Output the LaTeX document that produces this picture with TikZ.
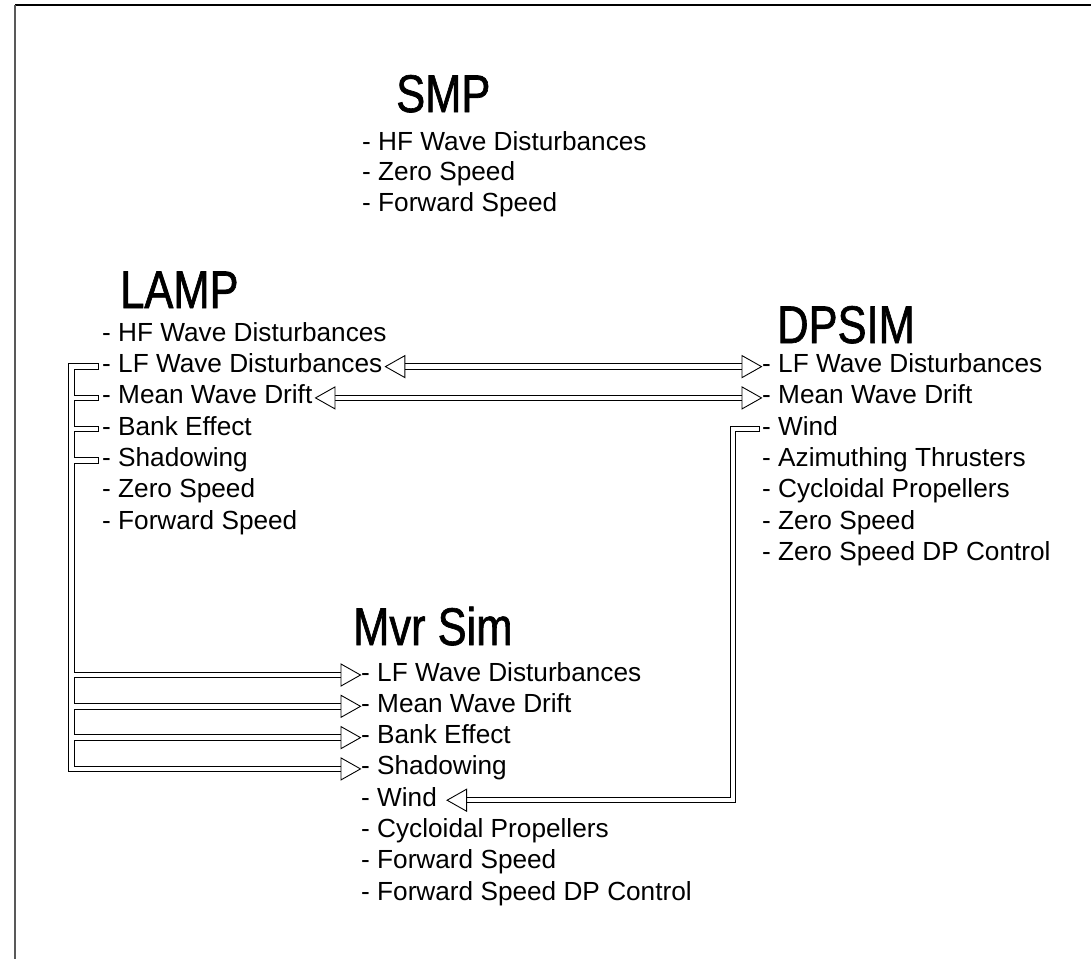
\documentclass[tikz,border=0pt]{standalone}
\usepackage{fontspec}
\setmainfont{Liberation Sans}
\newfontfamily\titlefont[FakeStretch=0.82,FakeBold=1.2]{Liberation Sans}
\usetikzlibrary{calc}
\begin{document}
\begin{tikzpicture}[x=1pt,y=-1pt,
  item/.style={anchor=base west, inner sep=0pt, font=\fontsize{26.2pt}{31pt}\selectfont},
  ttl/.style={anchor=base west, inner sep=0pt, font=\titlefont\fontsize{53pt}{60pt}\selectfont},
  bandblack/.style={line width=6.5pt, draw=black, line cap=butt, line join=miter},
  bandwhite/.style={line width=4.5pt, draw=white, line cap=butt, line join=miter},
  tipR/.pic={\draw[line width=0.9pt, fill=white, line join=miter] (0,0) -- (-19.5,-11) -- (-19.5,11) -- cycle;},
  tipL/.pic={\draw[line width=0.9pt, fill=white, line join=miter] (0,0) -- (19.5,-11) -- (19.5,11) -- cycle;},
]
\useasboundingbox (0,0) rectangle (1091,959);
\fill[white] (0,0) rectangle (1091,959);
% frame
\coordinate (fTL) at (15,5);
\coordinate (fTR) at (1091,5);
\coordinate (fBL) at (15,959);
\draw[line width=1.3pt] (fTL) -- (fTR);
\draw[line width=1.6pt, draw=black!65] (fTL) -- (fBL);

% SMP
\node[ttl] (smp) at (396,112) {SMP};
\node[item] (s1) at (362,150.5) {- HF Wave Disturbances};
\node[item] (s2) at (362,180.8) {- Zero Speed};
\node[item] (s3) at (362,211.1) {- Forward Speed};

% LAMP
\node[ttl] (lamp) at (120,308) {LAMP};
\node[item] (l1) at (102,341.3) {- HF Wave Disturbances};
\node[item] (l2) at (102,372.6) {- LF Wave Disturbances};
\node[item] (l3) at (102,403.9) {- Mean Wave Drift};
\node[item] (l4) at (102,435.2) {- Bank Effect};
\node[item] (l5) at (102,466.5) {- Shadowing};
\node[item] (l6) at (102,497.8) {- Zero Speed};
\node[item] (l7) at (102,529.1) {- Forward Speed};

% DPSIM
\node[ttl] (dpsim) at (777,343) {DPSIM};
\node[item] (d1) at (762,372.6) {- LF Wave Disturbances};
\node[item] (d2) at (762,403.9) {- Mean Wave Drift};
\node[item] (d3) at (762,435.2) {- Wind};
\node[item] (d4) at (762,466.5) {- Azimuthing Thrusters};
\node[item] (d5) at (762,497.8) {- Cycloidal Propellers};
\node[item] (d6) at (762,529.1) {- Zero Speed};
\node[item] (d7) at (762,560.4) {- Zero Speed DP Control};

% Mvr Sim
\node[ttl] (mvr) at (353,645) {Mvr Sim};
\node[item] (m1) at (361,681.0) {- LF Wave Disturbances};
\node[item] (m2) at (361,712.3) {- Mean Wave Drift};
\node[item] (m3) at (361,743.6) {- Bank Effect};
\node[item] (m4) at (361,774.9) {- Shadowing};
\node[item] (m5) at (361,806.2) {- Wind};
\node[item] (m6) at (361,837.5) {- Cycloidal Propellers};
\node[item] (m7) at (361,868.8) {- Forward Speed};
\node[item] (m8) at (361,900.1) {- Forward Speed DP Control};

% ports
\coordinate (l2s) at ([xshift=-3pt,yshift=6pt]l2.base west);
\coordinate (l3s) at ([xshift=-3pt,yshift=6pt]l3.base west);
\coordinate (l4s) at ([xshift=-3pt,yshift=6pt]l4.base west);
\coordinate (l5s) at ([xshift=-3pt,yshift=6pt]l5.base west);
\coordinate (l2t) at ([xshift=3pt,yshift=6pt]l2.base east);
\coordinate (l3t) at ([xshift=3pt,yshift=6pt]l3.base east);
\coordinate (d1t) at ([xshift=-0.5pt,yshift=6pt]d1.base west);
\coordinate (d2t) at ([xshift=-0.5pt,yshift=6pt]d2.base west);
\coordinate (d3s) at ([xshift=-2pt,yshift=6pt]d3.base west);
\coordinate (m1t) at ([xshift=-0.5pt,yshift=6pt]m1.base west);
\coordinate (m2t) at ([xshift=-0.5pt,yshift=6pt]m2.base west);
\coordinate (m3t) at ([xshift=-0.5pt,yshift=6pt]m3.base west);
\coordinate (m4t) at ([xshift=-0.5pt,yshift=6pt]m4.base west);
\coordinate (m5t) at ([xshift=10pt,yshift=6pt]m5.base east);
\coordinate (col) at (71.7,0);
\coordinate (colR) at (733,0);

% outer outlines of the hollow connectors
\draw[bandblack]
  ($(l2t)+(19.5,0)$) -- ($(d1t)+(-19.5,0)$)
  ($(l3t)+(19.5,0)$) -- ($(d2t)+(-19.5,0)$)
  (d3s) -- (colR |- d3s) -- (colR |- m5t) -- ($(m5t)+(19.5,0)$)
  (l2s) -- (col |- l2s) -- (col |- m1t) -- ($(m1t)+(-19.5,0)$)
  (l3s) -- (col |- l3s) -- (col |- m2t) -- ($(m2t)+(-19.5,0)$)
  (l4s) -- (col |- l4s) -- (col |- m3t) -- ($(m3t)+(-19.5,0)$)
  (l5s) -- (col |- l5s) -- (col |- m4t) -- ($(m4t)+(-19.5,0)$);
% inner white of the hollow connectors
\draw[bandwhite]
  ($(l2t)+(19.5,0)$) -- ($(d1t)+(-19.5,0)$)
  ($(l3t)+(19.5,0)$) -- ($(d2t)+(-19.5,0)$)
  ($(d3s)+(-1,0)$) -- (colR |- d3s) -- (colR |- m5t) -- ($(m5t)+(19.5,0)$)
  ($(l2s)+(-1,0)$) -- (col |- l2s) -- (col |- m1t) -- ($(m1t)+(-19.5,0)$)
  ($(l3s)+(-1,0)$) -- (col |- l3s) -- (col |- m2t) -- ($(m2t)+(-19.5,0)$)
  ($(l4s)+(-1,0)$) -- (col |- l4s) -- (col |- m3t) -- ($(m3t)+(-19.5,0)$)
  ($(l5s)+(-1,0)$) -- (col |- l5s) -- (col |- m4t) -- ($(m4t)+(-19.5,0)$);
% arrow heads
\pic at (l2t) {tipL};
\pic at (l3t) {tipL};
\pic at (d1t) {tipR};
\pic at (d2t) {tipR};
\pic at (m1t) {tipR};
\pic at (m2t) {tipR};
\pic at (m3t) {tipR};
\pic at (m4t) {tipR};
\pic at (m5t) {tipL};
\end{tikzpicture}
\end{document}
